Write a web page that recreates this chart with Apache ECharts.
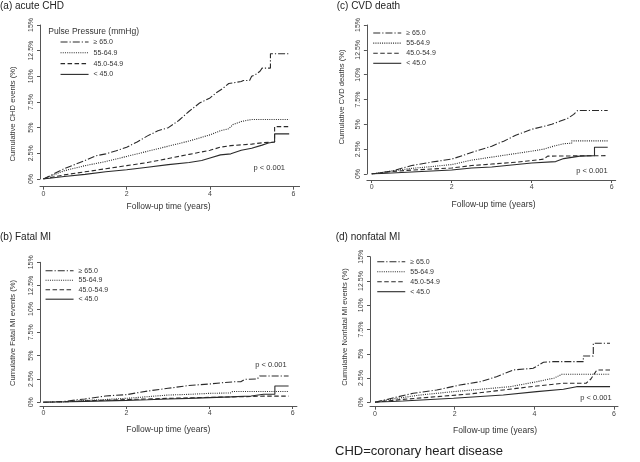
<!DOCTYPE html>
<html>
<head>
<meta charset="utf-8">
<script src="https://cdn.jsdelivr.net/npm/echarts@6/dist/echarts.min.js"></script>
<style>html,body{margin:0;padding:0;background:#fff;}#c{width:640px;height:462px;}</style>
</head>
<body>
<div id="c"></div>
<script>
// ---------- DATA (follow-up years, cumulative %) ----------
const seriesNames = ['\u2265 65.0', '55-64.9', '45.0-54.9', '< 45.0'];
const xTicks = [0, 2, 4, 6];
const yTicks = [0, 2.5, 5, 7.5, 10, 12.5, 15];

// (a) acute CHD
const a_ge65 = [[0,0],[0.25,0.5],[0.5,1.0],[0.75,1.4],[1,1.8],[1.25,2.25],[1.5,2.45],[1.75,2.75],[2,3.1],[2.25,3.6],[2.5,4.2],[2.75,4.7],[3,5.0],[3.25,5.7],[3.5,6.6],[3.75,7.4],[4,7.9],[4.15,8.4],[4.3,8.8],[4.45,9.3],[4.75,9.5],[4.8,9.6],[4.95,9.6],[5.0,10.0],[5.1,10.2],[5.2,10.5],[5.25,10.8],[5.45,10.8],[5.45,12.2],[5.9,12.2]];
const a_55 = [[0,0],[0.25,0.4],[0.5,0.8],[1,1.3],[1.5,1.7],[2,2.2],[2.5,2.7],[3,3.2],[3.5,3.7],[4,4.3],[4.25,4.7],[4.45,4.9],[4.55,5.3],[4.75,5.6],[5.0,5.8],[5.9,5.8]];
const a_45 = [[0,0],[0.5,0.4],[1,0.7],[1.5,1.0],[2,1.3],[2.5,1.6],[3,2.0],[3.5,2.4],[4,2.8],[4.25,3.1],[4.5,3.25],[5,3.4],[5.3,3.55],[5.55,3.6],[5.55,5.1],[5.9,5.1]];
const a_lt45 = [[0,0],[0.5,0.25],[1,0.45],[1.5,0.7],[2,0.9],[2.5,1.15],[3,1.4],[3.5,1.6],[3.8,1.8],[4,2.05],[4.25,2.35],[4.5,2.45],[4.75,2.8],[5,3.0],[5.25,3.3],[5.4,3.5],[5.55,3.6],[5.55,4.4],[5.9,4.4]];

// (c) CVD death
const c_ge65 = [[0,0],[0.5,0.3],[1,0.85],[1.5,1.2],[2,1.5],[2.3,1.9],[2.6,2.3],[3,2.8],[3.3,3.3],[3.6,3.9],[3.8,4.2],[4,4.5],[4.3,4.8],[4.5,5.0],[4.7,5.3],[4.9,5.6],[5.05,6.0],[5.15,6.4],[5.9,6.4]];
const c_55 = [[0,0],[0.5,0.3],[1,0.57],[1.5,0.75],[2,0.95],[2.5,1.4],[3,1.7],[3.5,2.0],[4,2.3],[4.3,2.5],[4.5,2.75],[4.8,3.05],[5.0,3.1],[5.0,3.33],[5.9,3.33]];
const c_45 = [[0,0],[0.5,0.25],[1,0.4],[1.5,0.5],[2,0.6],[2.5,0.85],[3,1.0],[3.5,1.15],[4,1.35],[4.3,1.5],[4.4,1.8],[5.9,1.85]];
const c_lt45 = [[0,0],[0.5,0.1],[1,0.2],[1.5,0.3],[2,0.4],[2.5,0.6],[3,0.7],[3.5,0.9],[4,1.1],[4.6,1.25],[4.8,1.55],[5.2,1.8],[5.57,1.85],[5.57,2.69],[5.9,2.69]];

// (b) Fatal MI
const b_ge65 = [[0,0],[0.5,0.1],[1,0.36],[1.5,0.68],[2,0.82],[2.5,1.2],[3,1.5],[3.5,1.8],[4,1.96],[4.3,2.1],[4.6,2.2],[4.75,2.2],[4.85,2.46],[5.15,2.5],[5.2,2.82],[5.9,2.82]];
const b_55 = [[0,0],[0.5,0.05],[1,0.2],[1.5,0.3],[2,0.43],[2.5,0.6],[3,0.78],[3.5,0.85],[4,0.96],[4.5,1.0],[4.55,1.15],[5.9,1.15]];
const b_45 = [[0,0],[0.5,0.05],[1,0.15],[1.5,0.22],[2,0.3],[2.5,0.35],[3,0.42],[3.5,0.48],[4,0.53],[4.5,0.58],[5,0.62],[5.3,0.66],[5.9,0.66]];
const b_lt45 = [[0,0],[0.5,0.03],[1,0.1],[1.5,0.15],[2,0.21],[2.5,0.28],[3,0.36],[3.5,0.42],[4,0.5],[4.5,0.58],[5,0.68],[5.3,0.86],[5.57,0.86],[5.57,1.75],[5.9,1.75]];

// (d) nonfatal MI
const d_ge65 = [[0,0],[0.4,0.4],[0.96,0.93],[1.55,1.27],[2.13,1.78],[2.64,2.12],[3.05,2.64],[3.47,3.33],[3.97,3.5],[4.23,4.12],[4.48,4.19],[5.23,4.19],[5.23,4.77],[5.48,4.77],[5.48,6.08],[5.9,6.08]];
const d_55 = [[0,0],[0.38,0.3],[1.13,0.75],[1.97,1.1],[2.64,1.34],[3.39,1.61],[4.06,2.12],[4.5,2.5],[4.69,2.89],[5.9,2.89]];
const d_45 = [[0,0],[0.7,0.3],[1.55,0.58],[2.39,0.86],[3.22,1.27],[4.06,1.68],[4.73,1.96],[5.3,1.96],[5.42,2.4],[5.5,2.9],[5.57,3.33],[5.9,3.33]];
const d_lt45 = [[0,0],[0.7,0.14],[1.97,0.41],[3.22,0.75],[4.06,1.1],[4.73,1.34],[5.06,1.61],[5.9,1.61]];

// ---------- LAYOUT ----------
const FONT = '"Liberation Sans", Arial, sans-serif';
const panels = [
  {data:[a_ge65,a_55,a_45,a_lt45], grid:{left:40,right:340.4,top:25,bottom:283}, xmin:-0.08, xmax:6.15, xoff:7.7, yoff:0,
   title:'(a) acute CHD', tx:0, ty:6, ytitle:'Cumulative CHD events (%)', ytx:13.3, yty:114, xtx:168.5, xty:207,
   leg:{left:60, top:38, gap:2.8}, legTitle:{text:'Pulse Pressure (mmHg)', x:48.3, y:32}, p:{x:285, y:168}},
  {data:[c_ge65,c_55,c_45,c_lt45], grid:{left:366.9,right:24.3,top:25,bottom:288}, xmin:-0.12, xmax:6.1, xoff:6, yoff:0,
   title:'(c) CVD death', tx:336.7, ty:6, ytitle:'Cumulative CVD deaths (%)', ytx:341.7, yty:97, xtx:493.5, xty:205,
   leg:{left:372.7, top:29, gap:2.1}, p:{x:607.7, y:170.7}},
  {data:[b_ge65,b_55,b_45,b_lt45], grid:{left:40,right:343.1,top:262.3,bottom:59.7}, xmin:-0.08, xmax:6.1, xoff:3.7, yoff:0,
   title:'(b) Fatal MI', tx:0, ty:237.3, ytitle:'Cumulative Fatal MI events (%)', ytx:13, yty:333, xtx:168.3, xty:429.3,
   leg:{left:45, top:266.7, gap:1.5}, p:{x:286.7, y:365}},
  {data:[d_ge65,d_55,d_45,d_lt45], grid:{left:370,right:22,top:256.7,bottom:59.7}, xmin:-0.125, xmax:6.1, xoff:4.4, yoff:0,
   title:'(d) nonfatal MI', tx:335.7, ty:237.3, ytitle:'Cumulative Nonfatal MI events (%)', ytx:345, yty:327, xtx:495, xty:431,
   leg:{left:376.7, top:257.7, gap:2}, p:{x:611.7, y:398.3}}
];

const lineStyles = [
  {type:[7,2,1.2,2], width:1.1, color:'#2a2a2a'},
  {type:[1,1.2], width:1.1, color:'#2a2a2a'},
  {type:[4.5,2.5], width:1.1, color:'#2a2a2a'},
  {type:'solid', width:1.1, color:'#2a2a2a'}
];

const grid = [], xAxis = [], yAxis = [], series = [], legend = [], graphic = [];
const txt = (text, x, y, size, opts) => Object.assign({
  type:'text', x:x, y:y, silent:true,
  style:Object.assign({text:text, fill:'#333', font: size + 'px ' + FONT,
    textAlign:'left', textVerticalAlign:'middle', align:'left', verticalAlign:'middle'}, (opts && opts.style) || {})
}, (opts && opts.el) || {});

panels.forEach((p, i) => {
  grid.push(Object.assign({containLabel:false}, p.grid));
  xAxis.push({
    type:'value', gridIndex:i, min:p.xmin, max:p.xmax, offset:p.xoff,
    axisLine:{onZero:false, lineStyle:{color:'#555', width:1}},
    axisTick:{length:3, customValues:xTicks, lineStyle:{color:'#555'}},
    axisLabel:{customValues:xTicks, fontSize:7, color:'#444', margin:4, fontFamily:FONT},
    splitLine:{show:false}
  });
  yAxis.push({
    type:'value', gridIndex:i, min:0, max:15, interval:2.5, offset:p.yoff,
    axisLine:{show:true, onZero:false, lineStyle:{color:'#555', width:1}},
    axisTick:{show:true, length:3, lineStyle:{color:'#555'}},
    axisLabel:{rotate:90, fontSize:7, color:'#444', margin:5, fontFamily:FONT, formatter: v => v + '%'},
    splitLine:{show:false}
  });
  p.data.forEach((d, k) => {
    series.push({
      type:'line', name:seriesNames[k], xAxisIndex:i, yAxisIndex:i, data:d,
      symbol:'none', silent:true, animation:false,
      lineStyle:lineStyles[k], itemStyle:{color:'#2a2a2a'}
    });
  });
  legend.push({
    data:seriesNames, orient:'vertical', left:p.leg.left, top:p.leg.top, padding:0,
    itemWidth:28, itemHeight:8, itemGap:p.leg.gap, selectedMode:false,
    itemStyle:{opacity:0},
    lineStyle:{width:1.1},
    textStyle:{fontSize:7, color:'#333', fontFamily:FONT, lineHeight:8}
  });
  graphic.push(txt(p.title, p.tx, p.ty, 10, {style:{fill:'#222'}}));
  graphic.push(txt(p.ytitle, p.ytx, p.yty, 7.6, {el:{rotation:Math.PI/2}, style:{textAlign:'center', align:'center'}}));
  graphic.push(txt('Follow-up time (years)', p.xtx, p.xty, 8.5, {style:{textAlign:'center', align:'center'}}));
  graphic.push(txt('p < 0.001', p.p.x, p.p.y, 7.5, {style:{textAlign:'right', align:'right'}}));
  if (p.legTitle) graphic.push(txt(p.legTitle.text, p.legTitle.x, p.legTitle.y, 8.5, {}));
});
graphic.push(txt('CHD=coronary heart disease', 335, 451.7, 13, {style:{fill:'#222'}}));

const chart = echarts.init(document.getElementById('c'), null, {renderer:'canvas'});
chart.setOption({
  animation:false, backgroundColor:'#fff',
  textStyle:{fontFamily:FONT},
  grid, xAxis, yAxis, series, legend, graphic
});
</script>
</body>
</html>
